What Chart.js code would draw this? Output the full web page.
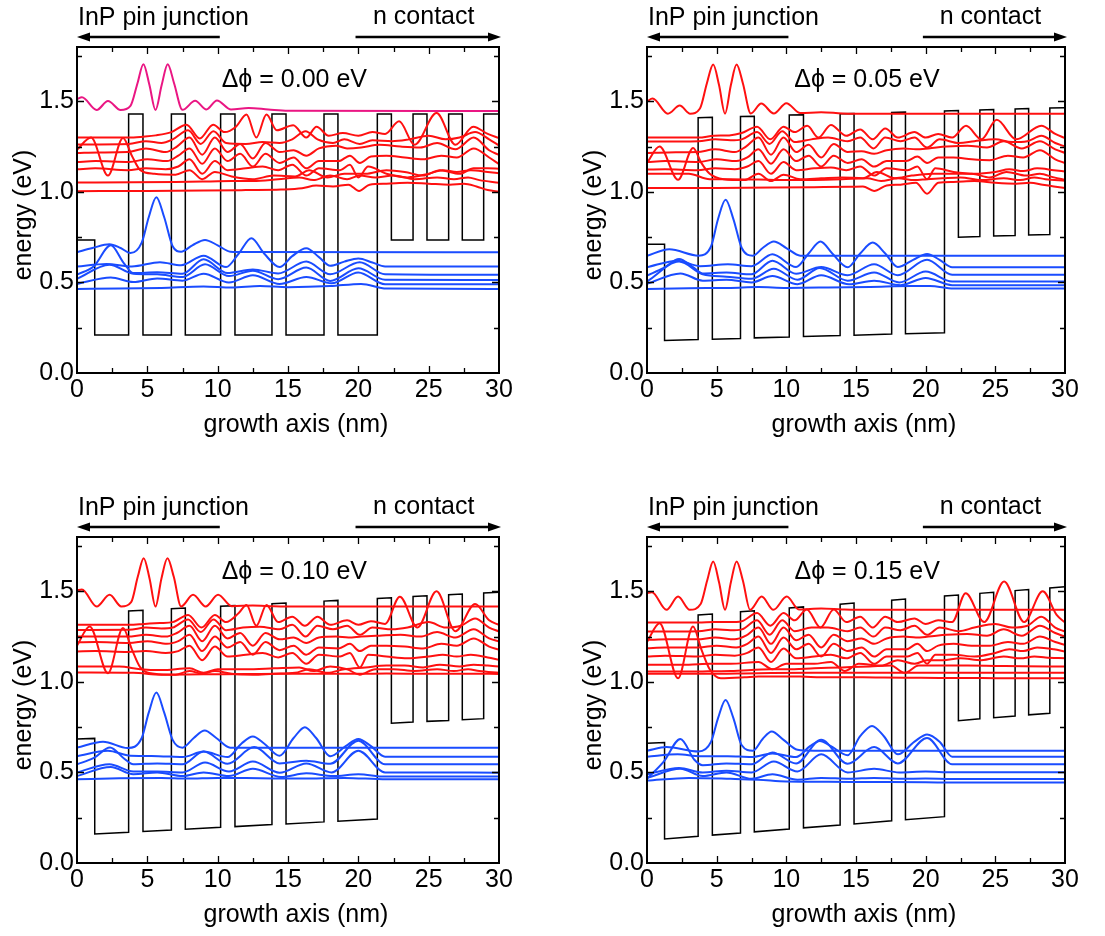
<!DOCTYPE html>
<html>
<head>
<meta charset="utf-8">
<script src="https://cdn.jsdelivr.net/npm/chart.js@4.4.0/dist/chart.umd.min.js"></script>
<style>
  html, body { margin: 0; padding: 0; background: #ffffff; }
  #wrap { position: relative; width: 1105px; height: 936px; }
  #wrap canvas { position: absolute; left: 0; top: 0; }
</style>
</head>
<body>
<div id="wrap">
  <canvas id="c0" width="1105" height="936"></canvas>
  <canvas id="c1" width="1105" height="936"></canvas>
  <canvas id="c2" width="1105" height="936"></canvas>
  <canvas id="c3" width="1105" height="936"></canvas>
</div>
<script>
// ---------- potential-offset labels ----------
const shiftLabels = ['0.00', '0.05', '0.10', '0.15'];

// ---------- band-edge profiles (nm, eV) ----------
const profile000 = [[0,0.735],[1.26,0.735],[1.26,0.21],[3.67,0.21],[3.67,1.43],[4.69,1.43],[4.69,0.21],[6.71,0.21],[6.71,1.43],[7.70,1.43],[7.70,0.21],[10.21,0.21],[10.21,1.43],[11.23,1.43],[11.23,0.21],[13.86,0.21],[13.86,1.43],[14.86,1.43],[14.86,0.21],[17.56,0.21],[17.56,1.43],[18.55,1.43],[18.55,0.21],[21.35,0.21],[21.35,1.43],[22.35,1.43],[22.35,0.735],[23.89,0.735],[23.89,1.43],[24.88,1.43],[24.88,0.735],[26.42,0.735],[26.42,1.43],[27.39,1.43],[27.39,0.735],[28.91,0.735],[28.91,1.43],[30,1.43]];
const profile005 = [[0,0.711],[1.26,0.711],[1.26,0.180],[3.67,0.185],[3.67,1.410],[4.69,1.412],[4.69,0.187],[6.71,0.191],[6.71,1.416],[7.70,1.418],[7.70,0.194],[10.21,0.199],[10.21,1.424],[11.23,1.426],[11.23,0.201],[13.86,0.207],[13.86,1.431],[14.86,1.433],[14.86,0.209],[17.56,0.215],[17.56,1.439],[18.55,1.441],[18.55,0.217],[21.35,0.222],[21.35,1.447],[22.35,1.449],[22.35,0.750],[23.89,0.754],[23.89,1.452],[24.88,1.455],[24.88,0.756],[26.42,0.759],[26.42,1.458],[27.39,1.460],[27.39,0.762],[28.91,0.765],[28.91,1.463],[30,1.465]];
const profile010 = [[0,0.685],[1.26,0.688],[1.26,0.160],[3.67,0.170],[3.67,1.392],[4.69,1.396],[4.69,0.174],[6.71,0.182],[6.71,1.404],[7.70,1.408],[7.70,0.186],[10.21,0.197],[10.21,1.418],[11.23,1.421],[11.23,0.201],[13.86,0.212],[13.86,1.432],[14.86,1.436],[14.86,0.216],[17.56,0.227],[17.56,1.446],[18.55,1.450],[18.55,0.231],[21.35,0.243],[21.35,1.461],[22.35,1.465],[22.35,0.772],[23.89,0.778],[23.89,1.471],[24.88,1.475],[24.88,0.782],[26.42,0.787],[26.42,1.481],[27.39,1.485],[27.39,0.791],[28.91,0.797],[28.91,1.491],[30,1.495]];
const profile015 = [[0,0.661],[1.26,0.665],[1.26,0.133],[3.67,0.148],[3.67,1.369],[4.69,1.375],[4.69,0.154],[6.71,0.166],[6.71,1.387],[7.70,1.393],[7.70,0.172],[10.21,0.188],[10.21,1.408],[11.23,1.414],[11.23,0.194],[13.86,0.210],[13.86,1.429],[14.86,1.435],[14.86,0.216],[17.56,0.233],[17.56,1.451],[18.55,1.457],[18.55,0.239],[21.35,0.256],[21.35,1.474],[22.35,1.480],[22.35,0.786],[23.89,0.796],[23.89,1.489],[24.88,1.495],[24.88,0.802],[26.42,0.812],[26.42,1.504],[27.39,1.510],[27.39,0.818],[28.91,0.827],[28.91,1.519],[30,1.525]];

// ---------- highest upper state (eV + |psi|^2) ----------
const top000 = [[0,1.512],[0.35,1.522],[1.4,1.452],[2.2,1.502],[3.1,1.452],[3.8,1.475],[4.3,1.60],[4.72,1.705],[5.15,1.59],[5.58,1.452],[6.02,1.59],[6.45,1.705],[6.9,1.60],[7.5,1.453],[8.4,1.503],[9.2,1.455],[9.95,1.505],[10.95,1.455],[12.2,1.463],[13.6,1.455],[15,1.448],[30,1.447]];
const top005 = [[0,1.50],[0.4,1.515],[1.5,1.432],[2.35,1.477],[3.1,1.432],[3.8,1.46],[4.3,1.60],[4.75,1.703],[5.17,1.59],[5.6,1.432],[6.02,1.59],[6.43,1.703],[6.88,1.60],[7.45,1.433],[8.2,1.488],[9.1,1.433],[10.0,1.49],[11.0,1.435],[12.5,1.44],[14,1.433],[15,1.432],[30,1.432]];
const top010 = [[0,1.505],[0.35,1.51],[1.4,1.416],[2.32,1.481],[3.15,1.416],[3.85,1.44],[4.32,1.58],[4.74,1.683],[5.16,1.57],[5.58,1.416],[6.0,1.57],[6.43,1.683],[6.88,1.58],[7.4,1.416],[8.25,1.481],[9.15,1.416],[10.03,1.481],[11.0,1.418],[12.5,1.422],[14,1.417],[15,1.416],[30,1.416]];
const top015 = [[0,1.49],[0.35,1.495],[1.4,1.398],[2.23,1.471],[3.07,1.398],[3.85,1.43],[4.32,1.56],[4.75,1.665],[5.17,1.55],[5.6,1.398],[6.02,1.55],[6.43,1.665],[6.88,1.56],[7.4,1.398],[8.23,1.471],[9.07,1.398],[10.03,1.471],[10.9,1.40],[12.5,1.405],[14,1.40],[15,1.398],[30,1.398]];

// ---------- upper states, dphi = 0.00 eV ----------
const up000a = [[0,1.30],[3.68,1.30],[4.7,1.305],[5.6,1.312],[6.71,1.33],[7.78,1.371],[8.73,1.295],[9.68,1.371],[10.5,1.33],[11.3,1.36],[12.05,1.427],[12.75,1.30],[13.47,1.427],[14.2,1.34],[15.37,1.368],[16.3,1.30],[17.03,1.36],[17.9,1.31],[18.9,1.325],[20.0,1.31],[21.0,1.33],[21.9,1.32],[22.9,1.39],[24.0,1.26],[25.56,1.435],[26.9,1.26],[28.17,1.36],[29.2,1.32],[30,1.297]];
const up000b = [[0,1.262],[3.68,1.265],[4.9,1.28],[6.0,1.27],[6.8,1.29],[7.9,1.34],[8.8,1.265],[9.7,1.335],[10.6,1.27],[12.0,1.265],[13.2,1.275],[14.4,1.27],[15.3,1.29],[16.25,1.335],[17.1,1.29],[18.2,1.27],[19.0,1.29],[20.1,1.265],[21.0,1.285],[22.4,1.28],[23.6,1.29],[25.0,1.31],[26.2,1.29],[27.2,1.30],[28.3,1.33],[29.3,1.29],[30,1.256]];
const up000c = [[0,1.215],[1.5,1.218],[3.6,1.22],[4.9,1.24],[6.3,1.22],[7.1,1.25],[8.0,1.30],[8.9,1.205],[9.8,1.30],[10.7,1.22],[11.6,1.265],[12.5,1.185],[13.4,1.27],[14.4,1.22],[15.4,1.23],[16.3,1.20],[17.2,1.24],[18.4,1.255],[19.2,1.24],[20.2,1.245],[21.5,1.26],[23.0,1.25],[24.4,1.245],[25.6,1.27],[26.9,1.235],[28.2,1.30],[29.3,1.23],[30,1.204]];
const up000d = [[0,1.165],[1.3,1.17],[3.7,1.165],[5.0,1.18],[6.4,1.17],[7.2,1.20],[8.0,1.24],[8.9,1.155],[9.8,1.24],[10.7,1.17],[11.6,1.21],[12.5,1.14],[13.4,1.21],[14.4,1.16],[15.4,1.19],[16.3,1.13],[17.2,1.17],[18.6,1.17],[19.4,1.20],[20.1,1.16],[20.9,1.195],[22.0,1.20],[23.3,1.19],[24.6,1.18],[25.9,1.20],[27.0,1.19],[28.2,1.24],[29.3,1.19],[30,1.153]];
const up000e = [[0,1.125],[1.3,1.13],[3.6,1.12],[4.9,1.13],[6.3,1.125],[7.2,1.14],[8.0,1.18],[8.9,1.10],[9.8,1.17],[10.7,1.12],[12.0,1.13],[13.2,1.14],[14.3,1.12],[15.3,1.15],[16.3,1.09],[17.2,1.13],[18.7,1.12],[19.4,1.15],[20.0,1.08],[20.7,1.14],[22.0,1.10],[23.5,1.08],[25.0,1.10],[26.0,1.12],[27.0,1.11],[28.0,1.12],[29.2,1.11],[30,1.103]];
const up000f = [[0,1.233],[1.0,1.30],[2.2,1.09],[3.27,1.298],[3.9,1.20],[4.5,1.12],[5.5,1.10],[7.0,1.095],[8.0,1.12],[8.9,1.07],[9.8,1.11],[11.0,1.085],[12.5,1.07],[14.0,1.09],[15.5,1.085],[16.5,1.12],[17.8,1.08],[19.0,1.10],[20.5,1.10],[22.0,1.12],[23.3,1.11],[24.6,1.09],[25.8,1.12],[27.2,1.10],[28.2,1.13],[29.2,1.13],[30,1.128]];
const up000g = [[0,1.052],[4,1.053],[7,1.055],[9.5,1.058],[11,1.06],[12.5,1.06],[14.3,1.07],[15.8,1.08],[16.8,1.065],[18.0,1.09],[19.2,1.07],[20.1,1.09],[21.2,1.08],[22.5,1.09],[24,1.07],[25.6,1.08],[26.8,1.07],[27.8,1.08],[28.6,1.065],[30,1.051]];
const up000h = [[0,1.004],[5,1.005],[9,1.007],[12,1.01],[14.5,1.013],[16,1.02],[17,1.035],[18.2,1.03],[19.3,1.04],[20.05,1.005],[20.8,1.04],[22,1.045],[23.5,1.05],[25,1.045],[26.5,1.04],[27.5,1.045],[28.4,1.03],[29.2,1.01],[30,1.002]];

// ---------- upper states, dphi = 0.05 eV ----------
const up005a = [[0,1.30],[3.7,1.30],[4.8,1.31],[5.9,1.312],[6.8,1.325],[7.9,1.36],[8.85,1.29],[9.8,1.36],[10.6,1.33],[11.5,1.365],[12.3,1.30],[13.2,1.37],[14.3,1.31],[15.3,1.345],[16.2,1.29],[17.1,1.35],[18.0,1.30],[19.2,1.33],[20.0,1.30],[20.9,1.32],[21.9,1.30],[22.9,1.365],[24.0,1.29],[25.1,1.398],[26.5,1.29],[28.3,1.365],[29.3,1.32],[30,1.297]];
const up005b = [[0,1.278],[3.7,1.28],[4.9,1.29],[6.0,1.285],[6.8,1.29],[7.9,1.33],[8.8,1.265],[9.7,1.335],[10.6,1.275],[11.8,1.29],[13.0,1.30],[14.4,1.28],[15.3,1.30],[16.25,1.24],[17.1,1.30],[18.2,1.28],[19.2,1.30],[20.1,1.245],[21.0,1.29],[22.4,1.27],[23.5,1.28],[25.0,1.29],[26.2,1.275],[27.3,1.28],[28.3,1.31],[29.3,1.27],[30,1.251]];
const up005c = [[0,1.215],[1.5,1.218],[3.6,1.22],[4.9,1.235],[6.3,1.22],[7.1,1.25],[8.0,1.30],[8.9,1.205],[9.8,1.30],[10.7,1.22],[11.6,1.26],[12.5,1.19],[13.4,1.265],[14.4,1.22],[15.4,1.225],[16.3,1.21],[17.2,1.23],[18.4,1.24],[19.3,1.235],[20.2,1.24],[21.5,1.25],[23.0,1.255],[24.4,1.245],[25.6,1.28],[26.9,1.24],[28.2,1.28],[29.3,1.235],[30,1.215]];
const up005d = [[0,1.165],[1.3,1.17],[3.7,1.165],[5.0,1.18],[6.4,1.17],[7.2,1.19],[8.0,1.235],[8.9,1.155],[9.8,1.235],[10.7,1.17],[11.6,1.20],[12.5,1.14],[13.4,1.20],[14.4,1.16],[15.4,1.18],[16.3,1.14],[17.2,1.17],[18.6,1.17],[19.4,1.195],[20.1,1.16],[20.9,1.19],[22.0,1.19],[23.3,1.18],[24.6,1.175],[25.9,1.20],[27.0,1.19],[28.2,1.23],[29.3,1.18],[30,1.159]];
const up005e = [[0,1.123],[1.3,1.125],[3.6,1.12],[4.9,1.13],[6.3,1.125],[7.2,1.14],[8.0,1.17],[8.9,1.10],[9.8,1.165],[10.7,1.12],[12.0,1.13],[13.2,1.135],[14.3,1.12],[15.3,1.14],[16.3,1.09],[17.2,1.13],[18.7,1.12],[19.4,1.14],[20.1,1.07],[20.7,1.13],[22.0,1.11],[23.5,1.10],[25.0,1.11],[26.0,1.125],[27.0,1.115],[28.0,1.13],[29.2,1.12],[30,1.113]];
const up005f = [[0,1.16],[0.9,1.251],[2.23,1.067],[3.31,1.242],[3.9,1.16],[4.5,1.10],[5.5,1.07],[7.0,1.065],[8.0,1.10],[8.9,1.06],[9.8,1.095],[11.0,1.07],[12.5,1.075],[14.0,1.08],[15.5,1.075],[16.5,1.11],[17.8,1.075],[19.0,1.09],[20.5,1.10],[22.0,1.10],[23.3,1.10],[24.6,1.08],[25.8,1.11],[27.2,1.09],[28.2,1.10],[29.2,1.08],[30,1.067]];
const up005g = [[0,1.10],[3,1.10],[4.5,1.07],[6,1.07],[8,1.068],[10,1.065],[12,1.066],[14,1.07],[15.8,1.075],[16.8,1.06],[18.0,1.075],[19.2,1.065],[20.1,1.07],[21.2,1.075],[22.5,1.08],[24,1.065],[25.6,1.075],[26.8,1.065],[27.8,1.08],[28.6,1.07],[30,1.062]];
const up005h = [[0,1.021],[5,1.022],[9,1.024],[12,1.026],[14.5,1.028],[15.5,1.03],[16.3,1.005],[17.2,1.035],[18.2,1.04],[19.3,1.05],[20.1,0.99],[20.9,1.05],[22,1.055],[23.5,1.06],[25,1.05],[26.5,1.045],[27.5,1.05],[28.4,1.04],[29.2,1.03],[30,1.021]];

// ---------- upper states, dphi = 0.10 eV ----------
const up010a = [[0,1.315],[3.7,1.315],[4.8,1.32],[5.9,1.325],[6.8,1.33],[7.9,1.37],[8.85,1.30],[9.8,1.37],[10.6,1.33],[11.5,1.38],[12.05,1.425],[12.75,1.31],[13.47,1.425],[14.3,1.33],[15.3,1.36],[16.2,1.31],[17.1,1.36],[18.0,1.315],[19.2,1.34],[20.0,1.315],[20.9,1.335],[21.9,1.32],[22.95,1.47],[24.2,1.30],[25.56,1.50],[26.9,1.28],[28.3,1.43],[29.3,1.34],[30,1.315]];
const up010b = [[0,1.287],[3.7,1.288],[4.9,1.30],[6.0,1.295],[6.8,1.30],[7.9,1.345],[8.8,1.275],[9.7,1.345],[10.6,1.285],[11.8,1.30],[13.0,1.305],[14.4,1.29],[15.3,1.315],[16.25,1.25],[17.1,1.31],[18.2,1.29],[19.2,1.31],[20.1,1.26],[21.0,1.30],[22.4,1.29],[23.5,1.30],[25.0,1.33],[26.2,1.30],[27.3,1.31],[28.3,1.35],[29.3,1.30],[30,1.278]];
const up010c = [[0,1.25],[1.5,1.25],[3.6,1.25],[4.9,1.26],[6.3,1.25],[7.1,1.27],[8.0,1.31],[8.9,1.225],[9.8,1.31],[10.7,1.24],[11.6,1.27],[12.5,1.20],[13.4,1.27],[14.4,1.235],[15.4,1.245],[16.3,1.215],[17.2,1.245],[18.4,1.25],[19.3,1.245],[20.2,1.25],[21.5,1.255],[23.0,1.26],[24.4,1.25],[25.6,1.275],[26.9,1.245],[28.2,1.29],[29.3,1.24],[30,1.223]];
const up010d = [[0,1.219],[1.3,1.22],[3.7,1.215],[5.0,1.225],[6.4,1.21],[7.2,1.225],[8.0,1.26],[8.9,1.17],[9.8,1.25],[10.7,1.19],[11.6,1.22],[12.5,1.15],[13.4,1.22],[14.4,1.175],[15.4,1.20],[16.3,1.15],[17.2,1.19],[18.6,1.185],[19.4,1.21],[20.1,1.17],[20.9,1.20],[22.0,1.20],[23.3,1.195],[24.6,1.185],[25.9,1.21],[27.0,1.20],[28.2,1.24],[29.3,1.195],[30,1.177]];
const up010e = [[0,1.168],[1.3,1.17],[3.6,1.165],[4.9,1.17],[6.3,1.16],[7.2,1.17],[8.0,1.20],[8.9,1.12],[9.8,1.195],[10.7,1.14],[12.0,1.15],[13.2,1.16],[14.3,1.135],[15.3,1.16],[16.3,1.10],[17.2,1.15],[18.7,1.14],[19.4,1.16],[20.1,1.08],[20.7,1.15],[22.0,1.14],[23.5,1.13],[25.0,1.14],[26.0,1.15],[27.0,1.14],[28.0,1.15],[29.2,1.135],[30,1.122]];
const up010f = [[0,1.20],[0.9,1.306],[2.2,1.048],[3.27,1.297],[3.9,1.18],[4.5,1.08],[5.5,1.045],[7.0,1.04],[8.0,1.06],[8.9,1.045],[9.8,1.06],[11.0,1.045],[12.5,1.04],[14.0,1.045],[15.5,1.05],[16.5,1.07],[17.8,1.05],[19.0,1.07],[20.5,1.08],[22.0,1.09],[23.3,1.09],[24.6,1.08],[25.8,1.095],[27.2,1.085],[28.2,1.095],[29.2,1.09],[30,1.085]];
const up010g = [[0,1.085],[3,1.085],[4.5,1.07],[6,1.065],[8,1.075],[9,1.05],[10,1.07],[12,1.07],[14,1.075],[15.8,1.08],[16.8,1.06],[18.0,1.085],[19.2,1.07],[20.1,1.04],[21.2,1.07],[22.5,1.07],[24,1.06],[25.6,1.07],[26.8,1.06],[27.8,1.07],[28.6,1.06],[30,1.05]];
const up010h = [[0,1.052],[4,1.05],[6,1.04],[9,1.042],[12,1.043],[14.5,1.045],[16,1.045],[18,1.045],[20,1.045],[22,1.046],[25,1.045],[28,1.045],[30,1.044]];

// ---------- upper states, dphi = 0.15 eV ----------
const up015a = [[0,1.328],[3.7,1.328],[4.8,1.33],[5.9,1.33],[6.8,1.335],[7.9,1.38],[8.85,1.31],[9.8,1.38],[10.6,1.34],[11.47,1.40],[12.45,1.30],[13.4,1.40],[14.3,1.33],[15.3,1.36],[16.2,1.30],[17.1,1.36],[18.0,1.33],[19.2,1.35],[20.0,1.32],[20.9,1.34],[21.9,1.33],[22.87,1.49],[24.2,1.33],[25.63,1.554],[27.07,1.33],[28.4,1.50],[29.4,1.37],[30,1.328]];
const up015b = [[0,1.278],[3.7,1.28],[4.9,1.29],[6.0,1.285],[6.8,1.29],[7.9,1.34],[8.8,1.26],[9.7,1.34],[10.6,1.28],[11.8,1.30],[13.0,1.30],[14.4,1.28],[15.3,1.30],[16.25,1.25],[17.1,1.30],[18.2,1.285],[19.2,1.31],[20.1,1.26],[21.0,1.30],[22.4,1.28],[23.5,1.30],[25.0,1.32],[26.2,1.30],[27.3,1.31],[28.3,1.36],[29.3,1.30],[30,1.278]];
const up015c = [[0,1.232],[1.5,1.235],[3.6,1.235],[4.9,1.245],[6.3,1.235],[7.1,1.255],[8.0,1.30],[8.9,1.21],[9.8,1.30],[10.7,1.23],[11.6,1.26],[12.5,1.19],[13.4,1.26],[14.4,1.225],[15.4,1.24],[16.3,1.21],[17.2,1.24],[18.4,1.25],[19.3,1.245],[20.2,1.25],[21.5,1.26],[23.0,1.265],[24.4,1.255],[25.6,1.29],[26.9,1.255],[28.2,1.31],[29.3,1.27],[30,1.25]];
const up015d = [[0,1.186],[1.3,1.19],[3.7,1.19],[5.0,1.20],[6.4,1.19],[7.2,1.21],[8.0,1.25],[8.9,1.16],[9.8,1.245],[10.7,1.18],[11.6,1.21],[12.5,1.14],[13.4,1.21],[14.4,1.17],[15.4,1.19],[16.3,1.14],[17.2,1.18],[18.6,1.18],[19.4,1.21],[20.1,1.17],[20.9,1.20],[22.0,1.21],[23.3,1.20],[24.6,1.20],[25.9,1.22],[27.0,1.21],[28.2,1.25],[29.3,1.22],[30,1.204]];
const up015e = [[0,1.14],[1.3,1.145],[3.6,1.14],[4.9,1.15],[6.3,1.145],[7.2,1.16],[8.0,1.19],[8.9,1.11],[9.8,1.185],[10.7,1.13],[12.0,1.14],[13.2,1.15],[14.3,1.13],[15.3,1.16],[16.3,1.10],[17.2,1.14],[18.7,1.14],[19.4,1.16],[20.1,1.10],[20.7,1.15],[22.0,1.15],[23.5,1.14],[25.0,1.16],[26.0,1.18],[27.0,1.17],[28.0,1.19],[29.2,1.18],[30,1.167]];
const up015f = [[0,1.22],[0.9,1.324],[2.23,1.02],[3.3,1.306],[3.9,1.18],[4.5,1.07],[5.3,1.02],[7.0,1.025],[8.0,1.03],[9,1.03],[10,1.03],[11.0,1.03],[12.5,1.025],[14.0,1.025],[15.5,1.025],[17,1.024],[19.0,1.023],[21,1.022],[24,1.021],[27,1.02],[30,1.020]];
const up015g = [[0,1.094],[3,1.095],[4.5,1.10],[6,1.10],[8,1.11],[9,1.07],[10,1.10],[12,1.10],[13.2,1.11],[14.2,1.06],[15.2,1.10],[16.8,1.09],[18.0,1.12],[19.2,1.10],[20.1,1.12],[21.2,1.12],[22.5,1.13],[24,1.12],[25.6,1.14],[26.8,1.13],[27.8,1.14],[28.6,1.135],[30,1.131]];
const up015h = [[0,1.057],[4,1.058],[6,1.06],[8.9,1.07],[10,1.07],[12,1.075],[14,1.08],[16,1.085],[17.5,1.09],[18.5,1.05],[19.5,1.09],[21,1.09],[23,1.09],[25,1.088],[27,1.086],[30,1.085]];
const up015i = [[0,1.045],[4,1.045],[8,1.048],[12,1.05],[16,1.05],[20,1.05],[24,1.051],[30,1.051]];

// ---------- lower states ----------
const lo000a = [[0,0.667],[1.1,0.69],[2.3,0.711],[3.1,0.69],[3.8,0.662],[4.6,0.72],[5.1,0.86],[5.64,0.971],[6.2,0.86],[6.8,0.70],[7.4,0.67],[8.2,0.705],[9.1,0.735],[10.0,0.705],[10.9,0.67],[12,0.668],[30,0.667]];
const lo000b = [[0,0.588],[2.1,0.602],[3.9,0.588],[5.9,0.612],[7.4,0.595],[9.0,0.648],[10.6,0.585],[11.5,0.66],[12.4,0.744],[13.3,0.66],[14.4,0.585],[15.3,0.645],[16.3,0.689],[17.2,0.64],[18.0,0.592],[19.0,0.615],[20.0,0.632],[21.0,0.61],[21.9,0.588],[30,0.588]];
const lo000c = [[0,0.543],[1.2,0.59],[2.4,0.705],[3.3,0.61],[4.0,0.552],[5.7,0.556],[7.5,0.548],[9.0,0.628],[10.7,0.552],[12.5,0.572],[14.3,0.55],[16.3,0.615],[18.0,0.545],[20.1,0.612],[21.9,0.545],[30,0.542]];
const lo000d = [[0,0.52],[2.3,0.598],[4.0,0.548],[5.7,0.545],[7.5,0.53],[9.1,0.60],[10.8,0.535],[12.5,0.565],[14.3,0.518],[16.3,0.582],[18.0,0.508],[20.0,0.578],[21.9,0.515],[30,0.514]];
const lo000e = [[0,0.492],[2.4,0.527],[4.0,0.502],[5.7,0.522],[7.5,0.51],[9.0,0.548],[10.8,0.50],[12.5,0.54],[14.4,0.492],[16.3,0.53],[18.1,0.495],[20.0,0.555],[21.9,0.49],[30,0.490]];
const lo000f = [[0,0.464],[3,0.466],[6,0.47],[9,0.478],[11,0.472],[13,0.48],[15,0.474],[18,0.48],[20.2,0.492],[22,0.466],[30,0.464]];

const lo005a = [[0,0.647],[1.6,0.683],[3.7,0.648],[4.6,0.70],[5.1,0.85],[5.64,0.956],[6.2,0.85],[6.8,0.69],[7.6,0.648],[8.3,0.69],[9.1,0.726],[10.0,0.69],[11.0,0.648],[12,0.647],[30,0.647]];
const lo005b = [[0,0.584],[2.2,0.62],[3.8,0.59],[5.8,0.60],[7.5,0.59],[9.0,0.655],[10.7,0.585],[11.6,0.66],[12.45,0.726],[13.3,0.66],[14.4,0.584],[15.3,0.66],[16.2,0.72],[17.1,0.66],[18.0,0.585],[19.1,0.625],[20.1,0.657],[21.0,0.625],[21.9,0.584],[30,0.584]];
const lo005c = [[0,0.538],[1.2,0.58],[2.3,0.63],[3.3,0.585],[4.0,0.55],[5.7,0.555],[7.5,0.545],[9.0,0.62],[10.7,0.548],[12.5,0.585],[14.4,0.54],[16.3,0.60],[18.0,0.54],[20.1,0.625],[21.9,0.542],[30,0.542]];
const lo005d = [[0,0.505],[2.3,0.615],[4.0,0.545],[5.7,0.532],[7.5,0.52],[9.1,0.575],[10.8,0.515],[12.4,0.58],[14.4,0.51],[16.3,0.555],[18.1,0.50],[20.0,0.56],[21.9,0.505],[30,0.505]];
const lo005e = [[0,0.492],[2.4,0.55],[4.0,0.51],[5.7,0.515],[7.5,0.50],[9.0,0.535],[10.8,0.49],[12.5,0.54],[14.5,0.49],[16.3,0.51],[18.2,0.485],[20.0,0.525],[21.9,0.485],[30,0.485]];
const lo005f = [[0,0.464],[3,0.468],[6,0.47],[8,0.475],[10,0.47],[13,0.472],[16,0.475],[19,0.48],[20.3,0.48],[22,0.466],[30,0.466]];

const lo010a = [[0,0.637],[1.85,0.67],[3.6,0.635],[4.6,0.69],[5.1,0.83],[5.64,0.941],[6.2,0.83],[6.8,0.68],[7.5,0.637],[8.3,0.69],[9.08,0.731],[9.9,0.69],[10.9,0.637],[12,0.637],[30,0.637]];
const lo010b = [[0,0.59],[2.2,0.62],[3.8,0.592],[5.8,0.59],[7.5,0.585],[9.0,0.615],[10.7,0.585],[11.7,0.66],[12.5,0.698],[13.3,0.66],[14.4,0.592],[15.4,0.69],[16.2,0.75],[17.0,0.69],[18.0,0.59],[19.1,0.645],[20.0,0.685],[20.9,0.645],[21.9,0.587],[30,0.587]];
const lo010c = [[0,0.545],[1.2,0.58],[2.35,0.638],[3.3,0.58],[4.0,0.545],[5.7,0.55],[7.5,0.545],[9.0,0.615],[10.7,0.548],[12.6,0.64],[14.4,0.55],[16.3,0.565],[18.0,0.548],[20.0,0.675],[21.9,0.545],[30,0.545]];
const lo010d = [[0,0.50],[2.3,0.545],[4.0,0.505],[5.7,0.505],[7.5,0.50],[9.1,0.555],[10.8,0.505],[12.5,0.56],[14.4,0.498],[16.3,0.55],[18.1,0.50],[20.0,0.62],[21.9,0.50],[30,0.499]];
const lo010e = [[0,0.48],[2.4,0.53],[4.0,0.49],[5.7,0.50],[7.5,0.48],[9.0,0.50],[10.8,0.48],[12.5,0.52],[14.5,0.475],[16.3,0.495],[18.2,0.48],[20.0,0.49],[21.9,0.477],[30,0.477]];
const lo010f = [[0,0.462],[3,0.468],[6,0.47],[7.8,0.466],[10,0.47],[13,0.468],[16,0.466],[19,0.47],[22,0.462],[30,0.462]];

const lo015a = [[0,0.62],[1.4,0.64],[3.7,0.615],[4.6,0.67],[5.1,0.80],[5.64,0.90],[6.2,0.80],[6.8,0.65],[7.6,0.62],[8.3,0.685],[8.95,0.726],[9.8,0.68],[10.8,0.625],[12,0.62],[30,0.62]];
const lo015b = [[0,0.587],[2.2,0.60],[3.8,0.59],[5.8,0.59],[7.5,0.585],[9.0,0.605],[10.7,0.585],[11.7,0.645],[12.4,0.674],[13.2,0.645],[14.4,0.595],[15.3,0.70],[16.15,0.757],[17.0,0.70],[18.0,0.60],[19.2,0.67],[20.1,0.710],[21.0,0.67],[21.9,0.587],[30,0.587]];
const lo015c = [[0,0.465],[1.2,0.56],[2.4,0.685],[3.4,0.57],[4.0,0.54],[5.7,0.55],[7.5,0.545],[9.0,0.61],[10.7,0.55],[12.5,0.68],[14.4,0.548],[16.3,0.64],[18.0,0.55],[20.1,0.69],[21.9,0.545],[30,0.545]];
const lo015d = [[0,0.49],[2.3,0.525],[4.0,0.50],[5.7,0.51],[7.5,0.50],[9.1,0.56],[10.8,0.505],[12.5,0.60],[14.4,0.50],[16.3,0.52],[18.1,0.50],[20.0,0.505],[21.9,0.501],[30,0.501]];
const lo015e = [[0,0.47],[2.4,0.52],[4.0,0.48],[5.7,0.50],[7.5,0.465],[9.0,0.49],[10.8,0.46],[12.5,0.47],[14.5,0.465],[16.3,0.47],[18.2,0.465],[20.0,0.466],[21.9,0.464],[30,0.464]];
const lo015f = [[0,0.455],[3,0.47],[6,0.465],[8,0.46],[10,0.45],[13,0.448],[16,0.447],[20,0.446],[22,0.444],[30,0.444]];

// ---------- panel assembly ----------
const panels = [
  { label: shiftLabels[0], profile: profile000, top: top000, topColor: '#ea1683',
    upper: [up000a, up000b, up000c, up000d, up000e, up000f, up000g, up000h],
    lower: [lo000a, lo000b, lo000c, lo000d, lo000e, lo000f],
    box: { l: 77, t: 47, r: 499, b: 373 }, tagX: 15.45, row: 0 },
  { label: shiftLabels[1], profile: profile005, top: top005, topColor: '#ff1010',
    upper: [up005a, up005b, up005c, up005d, up005e, up005f, up005g, up005h],
    lower: [lo005a, lo005b, lo005c, lo005d, lo005e, lo005f],
    box: { l: 647, t: 47, r: 1065, b: 373 }, tagX: 15.78, row: 0 },
  { label: shiftLabels[2], profile: profile010, top: top010, topColor: '#ff1010',
    upper: [up010a, up010b, up010c, up010d, up010e, up010f, up010g, up010h],
    lower: [lo010a, lo010b, lo010c, lo010d, lo010e, lo010f],
    box: { l: 77, t: 537, r: 499, b: 863 }, tagX: 15.45, row: 1 },
  { label: shiftLabels[3], profile: profile015, top: top015, topColor: '#ff1010',
    upper: [up015a, up015b, up015c, up015d, up015e, up015f, up015g, up015h, up015i],
    lower: [lo015a, lo015b, lo015c, lo015d, lo015e, lo015f],
    box: { l: 647, t: 537, r: 1065, b: 863 }, tagX: 15.8, row: 1 }
];

const PAGE_W = 1105, PAGE_H = 936;
const Y_AXIS_W = 60, X_AXIS_H = 40;
const FONT_FAMILY = "'Liberation Sans', Arial, Helvetica, sans-serif";
const RED = '#ff1010', BLUE = '#1a4cff', BLACK = '#000000';

const toXY = arr => arr.map(([x, y]) => ({ x, y }));

function arrow(ctx, x0, x1, y) {
  // shaft from x0 to tip at x1
  const dir = Math.sign(x1 - x0);
  const headLen = 13, headHalf = 4.5;
  ctx.beginPath();
  ctx.moveTo(x0, y);
  ctx.lineTo(x1 - dir * (headLen - 1), y);
  ctx.lineWidth = 2.6;
  ctx.stroke();
  ctx.beginPath();
  ctx.moveTo(x1, y);
  ctx.lineTo(x1 - dir * headLen, y - headHalf);
  ctx.lineTo(x1 - dir * headLen, y + headHalf);
  ctx.closePath();
  ctx.fill();
}

// frame, inward ticks and the annotations around every panel
const decorations = {
  id: 'decorations',
  afterDatasetsDraw(chart, args, opts) {
    const { ctx, chartArea: a, scales: { x, y } } = chart;
    ctx.save();
    ctx.strokeStyle = BLACK;
    ctx.lineWidth = 2;
    ctx.strokeRect(a.left, a.top, a.right - a.left, a.bottom - a.top);
    ctx.lineWidth = 1.3;
    ctx.beginPath();
    for (let v = 2.5; v < 30; v += 2.5) {
      const px = Math.round(x.getPixelForValue(v)) + 0.5;
      const len = (v % 5 === 0) ? 7 : 5;
      ctx.moveTo(px, a.bottom); ctx.lineTo(px, a.bottom - len);
      ctx.moveTo(px, a.top); ctx.lineTo(px, a.top + len);
    }
    for (let v = 0.25; v < 1.8; v += 0.25) {
      const py = Math.round(y.getPixelForValue(v)) + 0.5;
      const len = (Math.abs(v * 2 - Math.round(v * 2)) < 1e-6) ? 7 : 5;
      ctx.moveTo(a.left, py); ctx.lineTo(a.left + len, py);
      ctx.moveTo(a.right, py); ctx.lineTo(a.right - len, py);
    }
    ctx.stroke();
    ctx.restore();
  },
  afterDraw(chart, args, opts) {
    const { ctx, chartArea: a, scales: { x } } = chart;
    const font = '25px ' + FONT_FAMILY;
    ctx.save();
    ctx.fillStyle = BLACK;
    ctx.strokeStyle = BLACK;
    ctx.font = font;
    ctx.textBaseline = 'alphabetic';

    // region captions with arrows above the frame
    ctx.textAlign = 'left';
    ctx.fillText('InP pin junction', a.left + 1, a.top - 22);
    ctx.textAlign = 'center';
    ctx.fillText('n contact', x.getPixelForValue(24.65), a.top - 23);
    arrow(ctx, x.getPixelForValue(10.15), a.left, a.top - 10);
    arrow(ctx, x.getPixelForValue(19.8), a.right + 2, a.top - 10);

    // potential offset caption inside the frame
    ctx.textAlign = 'center';
    ctx.fillText('\u0394\u03d5 = ' + opts.label + ' eV', x.getPixelForValue(opts.tagX), a.top + 40 + opts.row * 2);

    // axis titles
    ctx.fillText('growth axis (nm)', (a.left + a.right) / 2 + 8, a.bottom + 59);
    ctx.translate(a.left - 46, (a.top + a.bottom) / 2 + 5);
    ctx.rotate(-Math.PI / 2);
    ctx.fillText('energy (eV)', 0, 0);
    ctx.restore();
  }
};

function buildChart(canvas, p) {
  const line = (data, color, width, order, smooth) => ({
    data: toXY(data), showLine: true, borderColor: color, backgroundColor: color,
    borderWidth: width, pointRadius: 0, fill: false, order,
    tension: 0, cubicInterpolationMode: smooth ? 'monotone' : 'default'
  });
  const datasets = [];
  datasets.push(line(p.top, p.topColor, 2, 0, true));
  p.upper.forEach(c => datasets.push(line(c, RED, 2, 1, true)));
  p.lower.forEach(c => datasets.push(line(c, BLUE, 2, 2, true)));
  datasets.push(line(p.profile, BLACK, 1.5, 3, false));

  const tickFont = { family: FONT_FAMILY, size: 25 };
  return new Chart(canvas, {
    type: 'scatter',
    data: { datasets },
    options: {
      responsive: false,
      animation: false,
      events: [],
      layout: { padding: { left: p.box.l - Y_AXIS_W, top: p.box.t, right: PAGE_W - p.box.r, bottom: PAGE_H - p.box.b - X_AXIS_H } },
      plugins: {
        legend: { display: false },
        tooltip: { enabled: false },
        decorations: { label: p.label, tagX: p.tagX, row: p.row }
      },
      scales: {
        x: {
          type: 'linear', min: 0, max: 30,
          afterFit: s => { s.height = X_AXIS_H; },
          ticks: { stepSize: 5, includeBounds: false, autoSkip: false, maxRotation: 0, font: tickFont, color: BLACK, padding: 2 },
          grid: { display: false, drawTicks: false },
          border: { display: false }
        },
        y: {
          type: 'linear', min: 0, max: 1.8,
          afterFit: s => { s.width = Y_AXIS_W; },
          ticks: { stepSize: 0.5, includeBounds: false, font: tickFont, color: BLACK, padding: 3, callback: v => v.toFixed(1) },
          grid: { display: false, drawTicks: false },
          border: { display: false }
        }
      }
    },
    plugins: [decorations]
  });
}

panels.forEach((p, i) => buildChart(document.getElementById('c' + i), p));
</script>
</body>
</html>
